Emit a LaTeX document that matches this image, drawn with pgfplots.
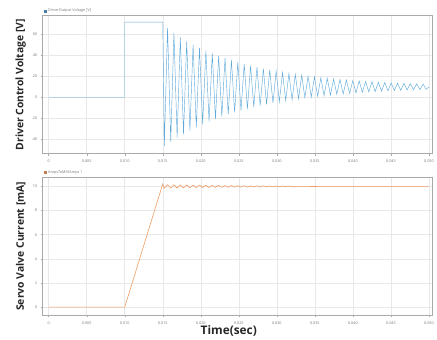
\documentclass[border=0pt]{standalone}
\usepackage{pgfplots}
\pgfplotsset{compat=1.18}
\usepackage{fontspec}
\setmainfont{Open Sans}
\definecolor{vblue}{RGB}{95,170,218}
\definecolor{iorange}{RGB}{238,155,100}
\definecolor{gridc}{RGB}{232,232,232}
\definecolor{axc}{RGB}{170,170,170}
\definecolor{tickc}{RGB}{120,120,120}
\pgfplotsset{
  common/.style={
    scale only axis, width=393bp, height=139bp, anchor=south west,
    xmin=-0.0008, xmax=0.0504,
    xtick={0,0.005,0.010,0.015,0.020,0.025,0.030,0.035,0.040,0.045,0.050},
    xticklabels={0,0.005,0.010,0.015,0.020,0.025,0.030,0.035,0.040,0.045,0.050},
    grid=major, major grid style={gridc, line width=0.5pt},
    axis line style={axc, line width=0.8pt},
    tick style={axc, line width=0.4pt}, major tick length=2pt,
    tick align=outside, xtick pos=bottom, ytick pos=left,
    ticklabel style={font=\fontsize{3.8}{4}\selectfont, text=tickc},
    /pgf/number format/assume math mode=true,
    xticklabel style={yshift=-1pt},
    scaled x ticks=false,
    legend style={draw=none, fill=none, font=\fontsize{3.8}{4}\selectfont, text=tickc,
      at={(axis description cs:0.002,1.0)}, anchor=south west, inner sep=0.5pt,
      /tikz/every even column/.append style={column sep=1pt}},
    legend cell align=left,
    ylabel style={font=\bfseries\fontsize{10.5}{12}\selectfont, text=black!85,
      at={(axis description cs:-0.056,0.5)}, anchor=center, rotate=0},
  }
}
\begin{document}
\begin{tikzpicture}
\path (0,0) rectangle (437bp,339bp);
\begin{axis}[common, at={(43bp,184bp)},
  ymin=-54, ymax=78, ytick={-40,-20,0,20,40,60},
  ylabel={Driver Control Voltage [V]}]
\addlegendimage{only marks, mark=square*, mark size=1.1pt, color=vblue!75!black}
\addlegendentry{DriverOutput Voltage [V]}
\addplot[vblue, line width=0.45pt, forget plot] coordinates {
(0,0) (0.010,0) (0.010,72) (0.0150,72)
(0.01521,-46.9) (0.01563,66.5) (0.01605,-42.7) (0.01647,61.7) (0.01689,-38.8)
(0.01731,57.5) (0.01773,-35.3) (0.01815,53.6) (0.01857,-31.9) (0.01899,50.4)
(0.01941,-28.9) (0.01983,47.4) (0.02025,-26.0) (0.02067,44.6) (0.02109,-23.4)
(0.02151,42.1) (0.02193,-20.9) (0.02235,39.7) (0.02277,-18.6) (0.02319,37.6)
(0.02361,-16.5) (0.02403,35.5) (0.02445,-14.6) (0.02487,33.7) (0.02529,-12.8)
(0.02571,31.9) (0.02613,-11.1) (0.02655,30.3) (0.02697,-9.5) (0.02739,28.8)
(0.02781,-8.1) (0.02823,27.4) (0.02865,-6.8) (0.02907,26.2) (0.02949,-5.5)
(0.02991,25.0) (0.03033,-4.4) (0.03075,23.9) (0.03117,-3.3) (0.03159,22.8)
(0.03201,-2.4) (0.03243,21.9) (0.03285,-1.5) (0.03327,21.0) (0.03369,-0.6)
(0.03411,20.2) (0.03453,0.2) (0.03495,19.5) (0.03537,0.9) (0.03579,18.8)
(0.03621,1.6) (0.03663,18.1) (0.03705,2.2) (0.03747,17.5) (0.03789,2.8)
(0.03831,17.0) (0.03873,3.3) (0.03915,16.5) (0.03957,3.8) (0.03999,16.0)
(0.04041,4.2) (0.04083,15.6) (0.04125,4.7) (0.04167,15.1) (0.04209,5.1)
(0.04251,14.8) (0.04293,5.4) (0.04335,14.4) (0.04377,5.8) (0.04419,14.1)
(0.04461,6.1) (0.04503,13.8) (0.04545,6.4) (0.04587,13.5) (0.04629,6.6)
(0.04671,13.3) (0.04713,6.9) (0.04755,13.0) (0.04797,7.1) (0.04839,12.8)
(0.04881,7.3) (0.04923,12.6) (0.04965,7.5) (0.0500,10)
};
\end{axis}
\begin{axis}[common, at={(43bp,21bp)},
  ymin=-0.66, ymax=10.75, ytick={0,2,4,6,8,10},
  ylabel={Servo Valve Current [mA]},
  xlabel={Time(sec)},
  xlabel style={font=\bfseries\fontsize{12}{13}\selectfont, text=black!85,
    at={(axis description cs:0.478,-0.112)}, anchor=center}]
\addlegendimage{only marks, mark=square*, mark size=1.1pt, color=iorange!80!black}
\addlegendentry{AmpsToMilliAmps 1}
\addplot[iorange, line width=0.6pt, forget plot] coordinates {
(0,0) (0.010,0) (0.0150,10.2)
(0.01521,9.85) (0.01563,10.14) (0.01605,9.86) (0.01647,10.13) (0.01689,9.87)
(0.01731,10.12) (0.01773,9.88) (0.01815,10.12) (0.01857,9.89) (0.01899,10.11)
(0.01941,9.90) (0.01983,10.10) (0.02025,9.91) (0.02067,10.09) (0.02109,9.91)
(0.02151,10.08) (0.02193,9.92) (0.02235,10.08) (0.02277,9.92) (0.02319,10.07)
(0.02361,9.93) (0.02403,10.07) (0.02445,9.94) (0.02487,10.06) (0.02529,9.94)
(0.02571,10.06) (0.02613,9.94) (0.02655,10.05) (0.02697,9.95) (0.02739,10.05)
(0.02781,9.95) (0.02823,10.05) (0.02865,9.96) (0.02907,10.04) (0.02949,9.96)
(0.02991,10.04) (0.03033,9.96) (0.03075,10.04) (0.03117,9.97) (0.03159,10.03)
(0.03201,9.97) (0.0360,10.0) (0.0500,10.0)
};
\end{axis}
\end{tikzpicture}
\end{document}
